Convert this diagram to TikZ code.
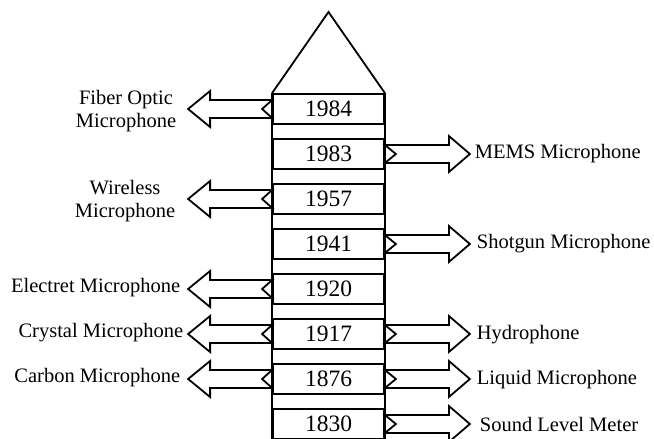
\documentclass[tikz,border=0pt]{standalone}
\usepackage{fontspec}
\setmainfont{Liberation Serif}
\begin{document}
\begin{tikzpicture}[x=1pt,y=-1pt,line width=1.8pt,line join=miter,
  yearbox/.style={draw,minimum width=111pt,minimum height=30pt,inner sep=0pt,font=\fontsize{23.5}{24}\selectfont},
  lab/.style={inner sep=0pt,font=\fontsize{20.5}{23}\selectfont,align=center},
  blockarrow/.style={draw,fill=white}]
\useasboundingbox (0,0) rectangle (654,439);
\foreach \yr [count=\i from 0] in {1984,1983,1957,1941,1920,1917,1876,1830}
  \node[yearbox] (y\yr) at (328.5,109+45*\i) {\yr};
\coordinate (apex) at (328.5,12);
\draw (y1984.north west) -- (apex) -- (y1984.north east);
\draw (y1984.north west) -- ([yshift=-10pt]y1830.south west);
\draw (y1984.north east) -- ([yshift=-10pt]y1830.south east);
% left arrows
\foreach \yr in {1984,1957,1920,1917,1876}
  \draw[blockarrow] (y\yr.west) ++(0,-9) -- ++(-62,0) -- ++(0,-9) -- ++(-22,18) -- ++(22,18) -- ++(0,-9) -- ++(62,0) -- ++(-10,-9) -- cycle;
% right arrows
\foreach \yr in {1983,1941,1917,1876,1830}
  \draw[blockarrow] (y\yr.east) ++(0,-9) -- ++(64,0) -- ++(0,-9) -- ++(21,18) -- ++(-21,18) -- ++(0,-9) -- ++(-64,0) -- ++(11,-9) -- cycle;
% left labels
\node[lab,anchor=east] (lfiber) at (177,111) {Fiber Optic\\Microphone};
\node[lab,anchor=east] (lwireless) at (176,201) {Wireless\\Microphone};
\node[lab,anchor=east] (lelectret) at (181,288) {Electret Microphone};
\node[lab,anchor=east] (lcrystal) at (184,333) {Crystal Microphone};
\node[lab,anchor=east] (lcarbon) at (181,378) {Carbon Microphone};
% right labels
\node[lab,anchor=west] (lmems) at (474,154) {MEMS Microphone};
\node[lab,anchor=west] (lshotgun) at (476,244) {Shotgun Microphone};
\node[lab,anchor=west] (lhydro) at (476,335) {Hydrophone};
\node[lab,anchor=west] (lliquid) at (476,380) {Liquid Microphone};
\node[lab,anchor=west] (lsound) at (479,424) {Sound Level Meter};
\end{tikzpicture}
\end{document}
